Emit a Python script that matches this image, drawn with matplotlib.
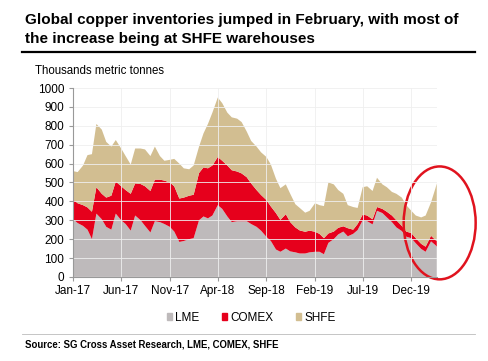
import numpy as np
import pandas as pd
import matplotlib
matplotlib.use("Agg")
import matplotlib.pyplot as plt
import matplotlib.dates as mdates
from matplotlib.patches import Patch, Ellipse

plt.rcParams['font.family'] = ['Liberation Sans', 'DejaVu Sans']

# semi-monthly observations, Jan-17 to mid Feb-20, plus last print
dates = list(pd.date_range("2017-01-01", periods=76, freq="SMS")) + [pd.Timestamp("2020-02-19")]

# LME stocks (thousand tonnes)
lme = [305, 285, 270, 250, 200, 335, 305, 265, 250, 335,
       300, 280, 245, 325, 300, 270, 235, 295, 290, 280,
       265, 240, 185, 190, 200, 205, 300, 320, 310, 325,
       380, 360, 320, 290, 295, 295, 295, 280, 265, 245,
       212, 190, 145, 133, 150, 135, 130, 124, 124, 130,
       133, 133, 120, 180, 200, 225, 240, 215, 228, 248,
       300, 295, 278, 350, 338, 315, 290, 262, 243, 213,
       205, 178, 148, 133, 188, 168, 160]
# LME + COMEX (top of the red band)
lme_comex = [410, 390, 380, 368, 345, 475, 440, 420, 430, 505,
             480, 460, 440, 495, 492, 480, 455, 515, 515, 510,
             500, 480, 415, 420, 430, 435, 550, 580, 575, 590,
             635, 615, 590, 565, 558, 548, 528, 495, 460, 434,
             407, 373, 338, 302, 332, 290, 262, 246, 239, 245,
             239, 228, 205, 230, 240, 260, 268, 258, 250, 280,
             330, 325, 305, 370, 360, 345, 325, 300, 270, 240,
             232, 205, 175, 160, 218, 195, 190]
# total of the three exchanges
total = [560, 555, 590, 645, 650, 810, 780, 715, 690, 725,
         680, 640, 595, 680, 680, 675, 640, 690, 640, 615,
         620, 625, 600, 575, 570, 590, 690, 760, 810, 870,
         950, 920, 870, 845, 838, 820, 770, 720, 690, 660,
         635, 595, 520, 470, 490, 440, 385, 365, 340, 350,
         390, 380, 375, 500, 490, 460, 440, 380, 370, 365,
         475, 480, 455, 525, 490, 475, 450, 440, 420, 380,
         350, 325, 315, 325, 395, 470, 495]

comex = np.array(lme_comex) - np.array(lme)
shfe = np.array(total) - np.array(lme_comex)

c_lme = "#bebabb"
c_comex = "#e6001c"
c_shfe = "#d2be91"

fig = plt.figure(figsize=(4.88, 3.61), dpi=100)
ax = fig.add_axes([0.150, 0.233, 0.745, 0.523])

ax.stackplot(dates, lme, comex, shfe, colors=[c_lme, c_comex, c_shfe], linewidth=0)

ax.set_ylim(0, 1000)
ax.set_yticks(range(0, 1001, 100))
ax.set_xlim(pd.Timestamp("2017-01-01"), pd.Timestamp("2020-02-19"))
ticks = pd.date_range("2017-01-01", "2019-12-01", freq="5MS")
ax.set_xticks(ticks)
ax.xaxis.set_major_formatter(mdates.DateFormatter("%b-%y"))

ax.grid(True, color="#efefef", linewidth=0.6)
for g in ax.get_xgridlines() + ax.get_ygridlines():
    g.set_zorder(0.5)
for s in ["top", "right"]:
    ax.spines[s].set_visible(False)
ax.spines["left"].set_color("#999999")
ax.spines["bottom"].set_color("#999999")
ax.tick_params(axis="both", labelsize=8.5, colors="#999999", labelcolor="black",
               length=3, width=0.8, direction="out")
ax.tick_params(axis="x", pad=3)

handles = [Patch(color=c_lme, label="LME"), Patch(color=c_comex, label="COMEX"),
           Patch(color=c_shfe, label="SHFE")]
fig.legend(handles=handles, loc="center", bbox_to_anchor=(0.515, 0.120), ncol=3,
           frameon=False, fontsize=8.5, handlelength=0.45, handleheight=0.45,
           handletextpad=0.25, columnspacing=1.9)

fig.text(0.051, 0.945, "Global copper inventories jumped in February, with most of",
         fontsize=11, fontweight="bold", va="center")
fig.text(0.051, 0.892, "the increase being at SHFE warehouses",
         fontsize=11, fontweight="bold", va="center")
fig.add_artist(plt.Line2D([0.045, 0.973], [0.856, 0.856], color="black", linewidth=1.6))
fig.text(0.072, 0.803, "Thousands metric tonnes", fontsize=8.3, va="center")
fig.add_artist(plt.Line2D([0.045, 0.973], [0.075, 0.075], color="#bbbbbb", linewidth=0.6))
fig.text(0.051, 0.047, "Source: SG Cross Asset Research, LME, COMEX, SHFE",
         fontsize=6.9, fontweight="bold", va="center")

ell = Ellipse((1.008, 0.286), 0.198, 0.598, transform=ax.transAxes, fill=False,
              edgecolor="#e0131e", linewidth=1.8, clip_on=False)
ax.add_patch(ell)

fig.savefig("out.png", dpi=100)
